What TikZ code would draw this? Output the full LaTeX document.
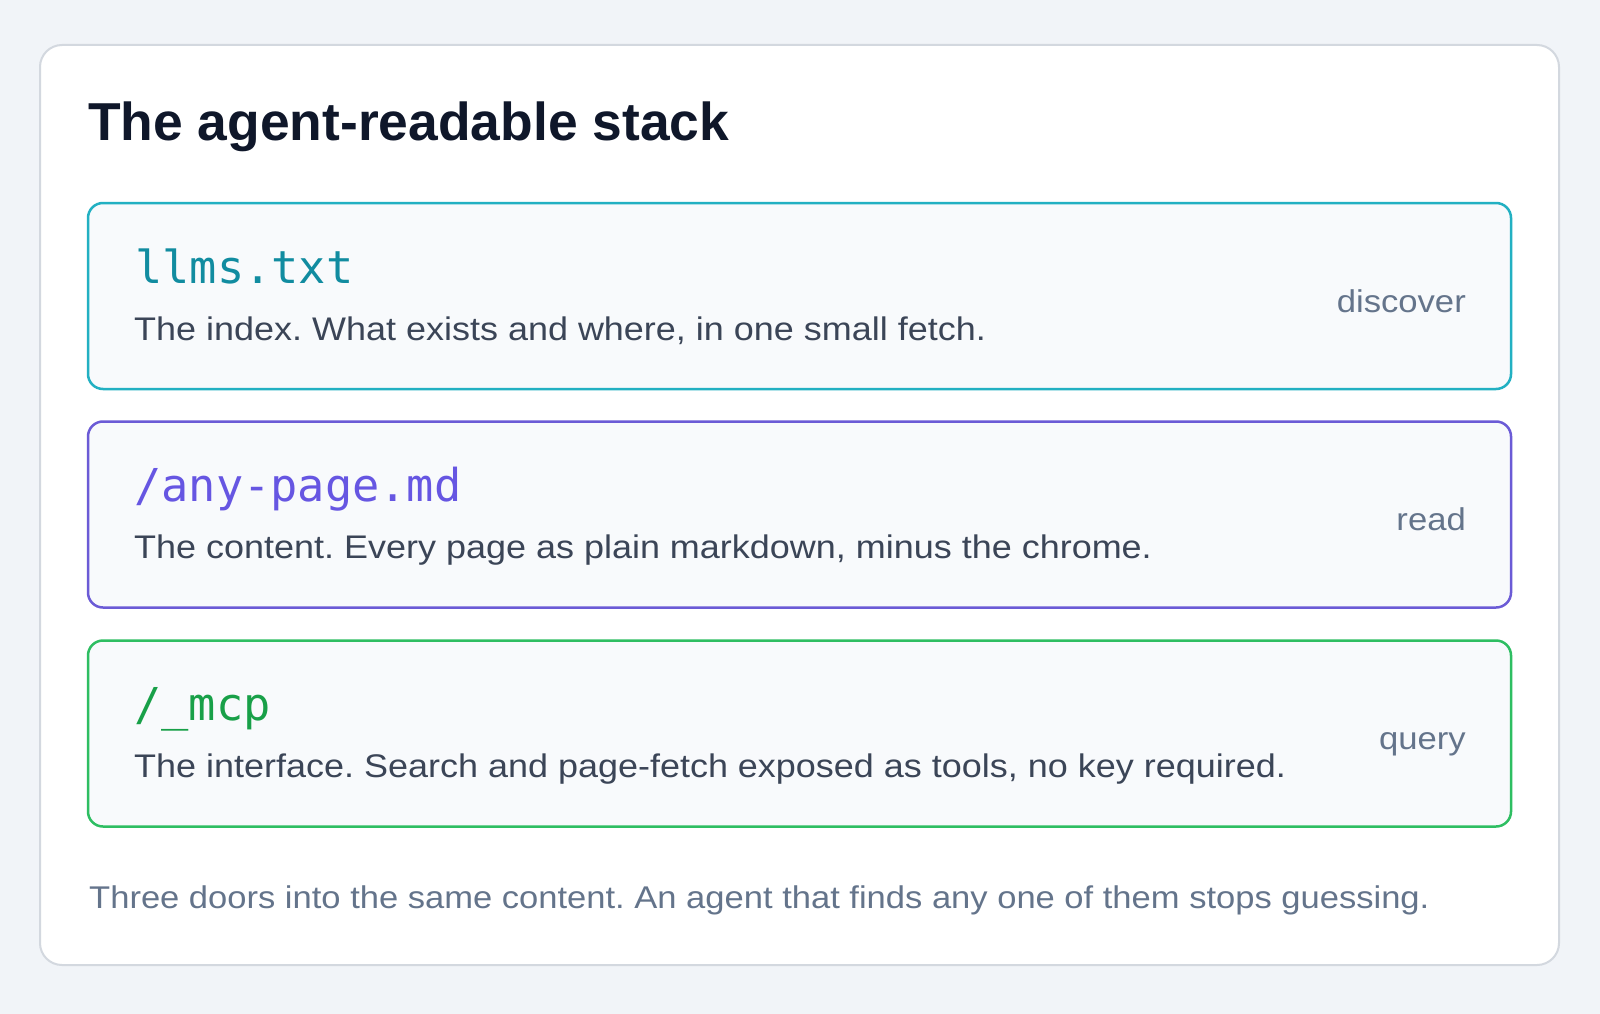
\documentclass[tikz,border=0pt]{standalone}
\usepackage{fontspec}
\setmainfont{Liberation Sans}[FakeStretch=1.1]
\newfontfamily\titlef{Liberation Sans}
\newfontfamily\monof{DejaVu Sans Mono}
\frenchspacing
\definecolor{bgc}{HTML}{F1F4F8}
\definecolor{cardline}{HTML}{D3D8DF}
\definecolor{boxfill}{HTML}{F8FAFC}
\definecolor{titlec}{HTML}{0F172A}
\definecolor{descc}{HTML}{3B4557}
\definecolor{mutedc}{HTML}{64748B}
\definecolor{tealline}{HTML}{22B0C2}
\definecolor{tealtext}{HTML}{118CA0}
\definecolor{purpline}{HTML}{6B5BD6}
\definecolor{purptext}{HTML}{6656E2}
\definecolor{greenline}{HTML}{2EBE62}
\definecolor{greentext}{HTML}{18A048}
\tikzset{
  layerbox/.style={draw=#1, line width=2.5pt, fill=boxfill, rounded corners=15pt,
    minimum width=1423pt, minimum height=186pt, inner sep=0pt},
  codetext/.style={anchor=base west, inner sep=0pt, text=#1, font=\monof\fontsize{45.3}{50}\selectfont},
  desctext/.style={anchor=base west, inner sep=0pt, text=descc, font=\frenchspacing\fontsize{32.7}{38}\selectfont},
  roletext/.style={anchor=base east, inner sep=0pt, text=mutedc, font=\fontsize{31.5}{38}\selectfont},
}
\begin{document}
\begin{tikzpicture}[x=1pt,y=-1pt]
\useasboundingbox (0,0) rectangle (1600,1014);
\fill[bgc] (0,0) rectangle (1600,1014);
\node[draw=cardline, line width=2pt, fill=white, rounded corners=22pt,
  minimum width=1519pt, minimum height=920pt, inner sep=0pt] (card) at (799.5,505) {};
\node[anchor=base west, inner sep=0pt, text=titlec, font=\titlef\bfseries\fontsize{53.4}{60}\selectfont] (title) at (88,141) {The agent-readable stack};

\node[layerbox=tealline] (b1) at (799.5,296) {};
\node[codetext=tealtext] (c1) at (135,283) {llms.txt};
\node[desctext] (d1) at (134,340) {The index. What exists and where, in one small fetch.};
\node[roletext] (r1) at (1466,312) {discover};

\node[layerbox=purpline] (b2) at (799.5,514.5) {};
\node[codetext=purptext] (c2) at (134,501) {/any-page.md};
\node[desctext] (d2) at (134,558) {The content. Every page as plain markdown, minus the chrome.};
\node[roletext] (r2) at (1466,530) {read};

\node[layerbox=greenline] (b3) at (799.5,733.5) {};
\node[codetext=greentext] (c3) at (134,720) {/\_mcp};
\node[desctext] (d3) at (134,777) {The interface. Search and page-fetch exposed as tools, no key required.};
\node[roletext] (r3) at (1466,749) {query};

\node[anchor=base west, inner sep=0pt, text=mutedc, font=\frenchspacing\fontsize{31.4}{38}\selectfont] (foot) at (89,908) {Three doors into the same content. An agent that finds any one of them stops guessing.};
\end{tikzpicture}
\end{document}
